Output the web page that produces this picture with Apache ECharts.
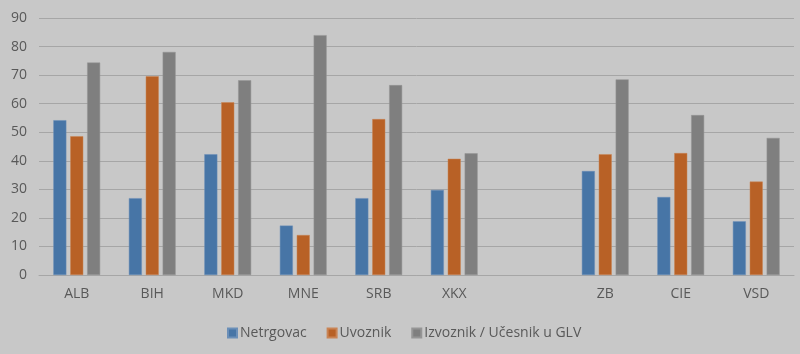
<!DOCTYPE html>
<html>
<head>
<meta charset="utf-8">
<script src="https://cdn.jsdelivr.net/npm/echarts@6/dist/echarts.min.js"></script>
<style>
html,body{margin:0;padding:0;background:#c8c8c8;}
#chart{width:800px;height:354px;}
</style>
</head>
<body>
<div id="chart"></div>
<script>
const categories = ['ALB','BIH','MKD','MNE','SRB','XKX','','ZB','CIE','VSD'];
const seriesNames = ['Netrgovac','Uvoznik','Izvoznik / Učesnik u GLV'];
const netrgovac = [54.2, 26.9, 42.3, 17.3, 26.9, 29.8, null, 36.4, 27.3, 18.8];
const uvoznik   = [48.6, 69.6, 60.5, 14.0, 54.6, 40.7, null, 42.3, 42.7, 32.7];
const izvoznik  = [74.4, 78.1, 68.2, 84.0, 66.5, 42.6, null, 68.5, 56.0, 48.0];
const colors = ['#4775a6','#b86126','#7f7f7f'];
const borders = ['#6b8fb8','#c98455','#959595'];

const chart = echarts.init(document.getElementById('chart'), null, {renderer:'canvas'});
const font = "'Open Sans', sans-serif";
const dataArr = [netrgovac, uvoznik, izvoznik];
chart.setOption({
  backgroundColor:'#c8c8c8',
  animation:false,
  grid:{left:39, right:6, top:18, bottom:79, containLabel:false},
  legend:{
    data:seriesNames,
    left:222, top:321,
    itemWidth:9, itemHeight:9, itemGap:20,
    icon:'rect',
    textStyle:{color:'#595959', fontSize:14, fontFamily:font, padding:[0,0,0,-2]}
  },
  xAxis:{
    type:'category', data:categories,
    axisLine:{lineStyle:{color:'#a6a6a6', width:1}},
    axisTick:{show:false},
    axisLabel:{color:'#595959', fontSize:14, fontFamily:font, margin:12, interval:0}
  },
  yAxis:{
    type:'value', min:0, max:90, interval:10,
    axisLine:{show:false}, axisTick:{show:false},
    splitLine:{lineStyle:{color:'#a6a6a6', width:1}},
    axisLabel:{color:'#595959', fontSize:14, fontFamily:font, margin:12}
  },
  series: seriesNames.map((n,i)=>({
    name:n, type:'bar', data:dataArr[i],
    barWidth:13, barGap:'30%',
    itemStyle:{color:colors[i], borderColor:borders[i], borderWidth:0.5}
  }))
});
</script>
</body>
</html>
